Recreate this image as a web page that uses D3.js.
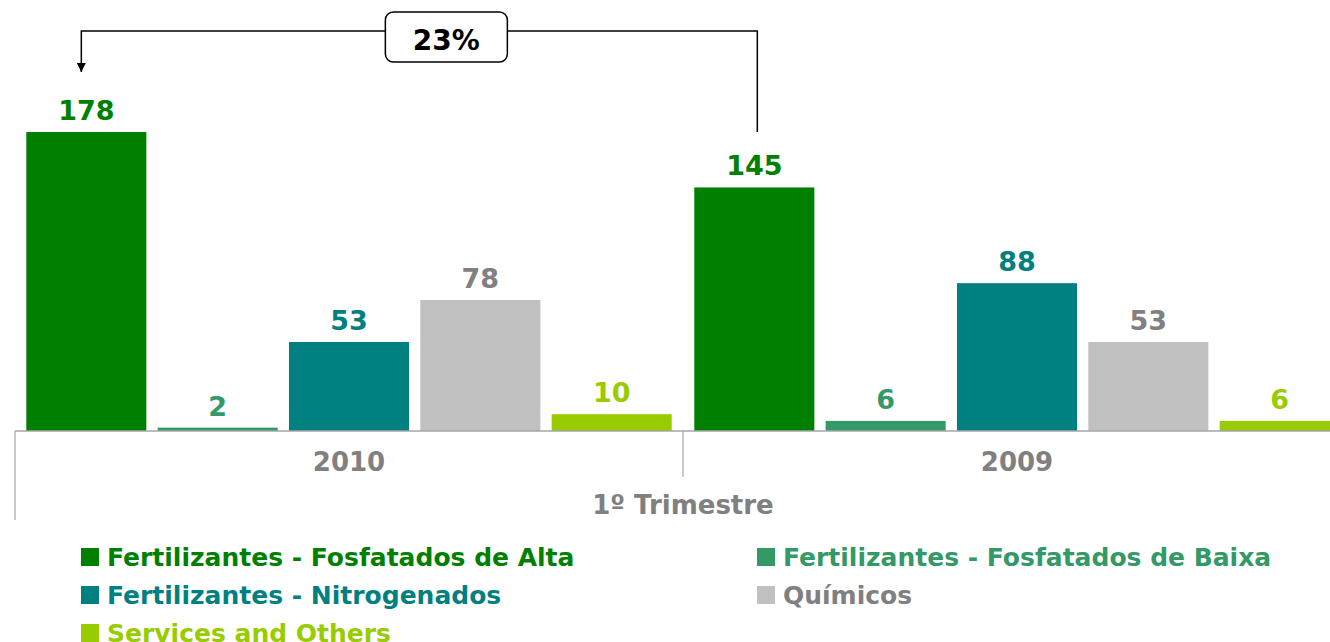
<!DOCTYPE html>
<html>
<head>
<meta charset="utf-8">
<script src="https://cdn.jsdelivr.net/npm/d3@7"></script>
<style>
    body { margin: 0; background: #fff; }
    text { font-family: "DejaVu Sans", Verdana, sans-serif; font-weight: bold; }
</style>
</head>
<body>
<div id="chart"></div>
<script>
// Chart data
const years = ["2010", "2009"];
const series = [
    "Fertilizantes - Fosfatados de Alta",
    "Fertilizantes - Fosfatados de Baixa",
    "Fertilizantes - Nitrogenados",
    "Químicos",
    "Services and Others"
];
const values2010 = [178, 2, 53, 78, 10];
const values2009 = [145, 6, 88, 53, 6];
const barColors = ["#008000", "#339966", "#008080", "#C0C0C0", "#99CC00"];
const textColors = ["#008000", "#339966", "#008080", "#808080", "#99CC00"];
const groupLabel = "1º Trimestre";
const changeLabel = "23%";

let width = 1330;
let height = 642;

let svg = d3
    .select("#chart")
    .append("svg")
    .attr("width", width)
    .attr("height", height);

const data = years.map((y, i) => ({
    year: y,
    values: (i === 0 ? values2010 : values2009).map((v, j) => ({ key: series[j], value: v, idx: j }))
}));

// Scales
let x0 = d3.scaleBand().domain(years).range([15, 1351]).padding(0);
let x1 = d3.scaleBand().domain(series).range([0, x0.bandwidth()]).padding(0.086);
let y = d3.scaleLinear().domain([0, 178]).range([431, 132]);

// Bars
let groups = svg
    .selectAll("g.year")
    .data(data)
    .enter()
    .append("g")
    .attr("class", "year")
    .attr("transform", (d) => "translate(" + x0(d.year) + ",0)");

groups
    .selectAll("rect")
    .data((d) => d.values)
    .enter()
    .append("rect")
    .attr("x", (d) => x1(d.key))
    .attr("y", (d) => y(d.value))
    .attr("width", x1.bandwidth())
    .attr("height", (d) => y(0) - y(d.value))
    .attr("fill", (d) => barColors[d.idx]);

groups
    .selectAll("text.val")
    .data((d) => d.values)
    .enter()
    .append("text")
    .attr("class", "val")
    .attr("x", (d) => x1(d.key) + x1.bandwidth() / 2)
    .attr("y", (d) => y(d.value) - 12)
    .attr("text-anchor", "middle")
    .attr("font-size", 27)
    .attr("fill", (d) => textColors[d.idx])
    .text((d) => d.value);

// Category axis (two levels)
const axisColor = "#A6A6A6";
svg.append("line")
    .attr("x1", x0.range()[0]).attr("x2", width)
    .attr("y1", y(0)).attr("y2", y(0))
    .attr("stroke", axisColor).attr("stroke-width", 1.5);
svg.append("line")
    .attr("x1", x0.range()[0]).attr("x2", x0.range()[0])
    .attr("y1", y(0)).attr("y2", 520)
    .attr("stroke", axisColor).attr("stroke-width", 1.2);
svg.append("line")
    .attr("x1", x0("2009")).attr("x2", x0("2009"))
    .attr("y1", y(0)).attr("y2", 477)
    .attr("stroke", axisColor).attr("stroke-width", 1.2);

svg.selectAll("text.year")
    .data(years)
    .enter()
    .append("text")
    .attr("class", "year")
    .attr("x", (d) => x0(d) + x0.bandwidth() / 2)
    .attr("y", 471)
    .attr("text-anchor", "middle")
    .attr("font-size", 26)
    .attr("fill", "#808080")
    .text((d) => d);

svg.append("text")
    .attr("x", x0("2009"))
    .attr("y", 514)
    .attr("text-anchor", "middle")
    .attr("font-size", 26)
    .attr("fill", "#808080")
    .text(groupLabel);

// Growth callout from 2009 to 2010
const xFrom = x0("2009") + x1(series[0]) + x1.bandwidth() / 2 + 3;
const xTo = x0("2010") + x1(series[0]) + x1.bandwidth() / 2 - 5;
const yTop = 31;
svg.append("defs").append("marker")
    .attr("id", "arrow")
    .attr("viewBox", "0 0 10 10")
    .attr("refX", 10).attr("refY", 5)
    .attr("markerWidth", 6).attr("markerHeight", 8)
    .attr("orient", "auto")
    .append("path")
    .attr("d", "M0,0L10,5L0,10Z")
    .attr("fill", "#000");
svg.append("path")
    .attr("d", "M" + xFrom + "," + y(values2010[0]) + "V" + yTop + "H" + xTo + "V" + 72)
    .attr("fill", "none")
    .attr("stroke", "#000")
    .attr("stroke-width", 1.5)
    .attr("marker-end", "url(#arrow)");
const boxCx = xTo + (xFrom - xTo) * 0.54;
svg.append("rect")
    .attr("x", boxCx - 61).attr("y", 12)
    .attr("width", 122).attr("height", 50)
    .attr("rx", 8)
    .attr("fill", "#fff")
    .attr("stroke", "#000")
    .attr("stroke-width", 1.5);
svg.append("text")
    .attr("x", boxCx).attr("y", 50)
    .attr("text-anchor", "middle")
    .attr("font-size", 28)
    .attr("fill", "#000")
    .text(changeLabel);

// Legend
let legend = svg.selectAll("g.legend")
    .data(series)
    .enter()
    .append("g")
    .attr("class", "legend")
    .attr("transform", (d, i) => "translate(" + (i % 2 === 0 ? 81 : 757) + "," + (548 + Math.floor(i / 2) * 38) + ")");
legend.append("rect")
    .attr("width", 18).attr("height", 18)
    .attr("fill", (d, i) => barColors[i]);
legend.append("text")
    .attr("x", 26).attr("y", 18)
    .attr("font-size", 25)
    .attr("fill", (d, i) => textColors[i])
    .text((d) => d);
</script>
</body>
</html>
